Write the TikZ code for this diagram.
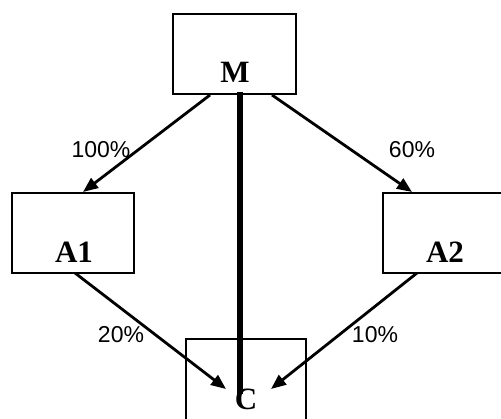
\documentclass[tikz,border=0pt]{standalone}
\usepackage{fontspec}
\setmainfont{Liberation Serif}
\newfontfamily\pctfont{Liberation Sans}
\usetikzlibrary{arrows.meta}
\begin{document}
\begin{tikzpicture}[x=1pt,y=-1pt,
  box/.style={draw,line width=1.6pt,inner sep=0pt,outer sep=0pt,anchor=north west},
  lbl/.style={font=\fontsize{31}{31}\selectfont\bfseries,inner sep=0pt,anchor=base},
  pct/.style={font=\pctfont\fontsize{23}{23}\selectfont,inner sep=0pt,anchor=base},
  arr/.style={line width=2.8pt,-{Triangle[length=15pt,width=12pt]}},
  thick line/.style={line width=6pt}]
\useasboundingbox (0,0) rectangle (501,419);
\fill[white] (0,0) rectangle (501,419);
\clip (0,0) rectangle (501,419);
% boxes
\node[box,minimum width=123pt,minimum height=80pt] (M) at (173,14) {};
\node[box,minimum width=122pt,minimum height=80pt] (A1) at (12,193) {};
\node[box,minimum width=125pt,minimum height=80pt] (A2) at (383,193) {};
\node[box,minimum width=120pt,minimum height=90pt] (C) at (186,339) {};
% box labels
\node[lbl] (tM) at (235,83) {M};
\node[lbl] (tA1) at (74,263) {A1};
\node[lbl] (tA2) at (445,263) {A2};
\node[lbl] (tC) at (246,410) {C};
% connector end points
\coordinate (m1) at (210,95);
\coordinate (a1t) at (83,192);
\coordinate (m2) at (272,95);
\coordinate (a2t) at (412,192);
\coordinate (a1b) at (75,273);
\coordinate (c1) at (226,389);
\coordinate (a2b) at (417,273);
\coordinate (c2) at (271,389);
\coordinate (mc) at (240,92);
\coordinate (cm) at (240,394);
% connectors
\draw[thick line] (mc) -- (cm);
\draw[arr] (m1) -- (a1t);
\draw[arr] (m2) -- (a2t);
\draw[arr] (a1b) -- (c1);
\draw[arr] (a2b) -- (c2);
% percentages
\node[pct] (p100) at (101,158) {100\%};
\node[pct] (p60) at (412,158) {60\%};
\node[pct] (p20) at (121,343) {20\%};
\node[pct] (p10) at (375,343) {10\%};
\end{tikzpicture}
\end{document}
